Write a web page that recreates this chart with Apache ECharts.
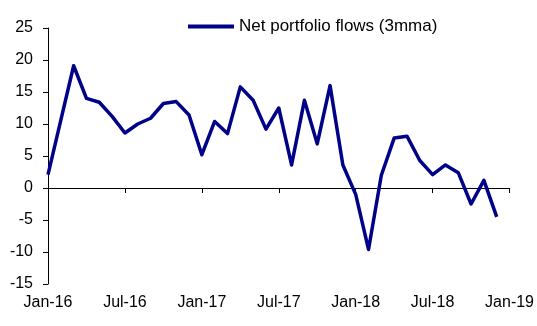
<!DOCTYPE html>
<html>
<head>
<meta charset="utf-8">
<script src="https://cdn.jsdelivr.net/npm/echarts@6/dist/echarts.min.js"></script>
<style>
html,body{margin:0;padding:0;background:#fff;}
#chart{width:537px;height:326px;}
</style>
</head>
<body>
<div id="chart"></div>
<script>
var categories = ['Jan-16','Feb-16','Mar-16','Apr-16','May-16','Jun-16','Jul-16','Aug-16','Sep-16','Oct-16','Nov-16','Dec-16',
  'Jan-17','Feb-17','Mar-17','Apr-17','May-17','Jun-17','Jul-17','Aug-17','Sep-17','Oct-17','Nov-17','Dec-17',
  'Jan-18','Feb-18','Mar-18','Apr-18','May-18','Jun-18','Jul-18','Aug-18','Sep-18','Oct-18','Nov-18','Dec-18',
  'Jan-19'];
var netPortfolioFlows = [2.1, 10.6, 19.1, 14.0, 13.4, 11.2, 8.6, 10.0, 10.9, 13.2, 13.5, 11.4,
  5.2, 10.4, 8.5, 15.8, 13.7, 9.2, 12.5, 3.6, 13.7, 6.9, 16.0, 3.6,
  -1.0, -9.6, 2.0, 7.8, 8.1, 4.3, 2.1, 3.6, 2.4, -2.5, 1.2, -4.5,
  null];
var seriesName = 'Net portfolio flows (3mma)';
var yMin = -15, yMax = 25, yStep = 5;

var chart = echarts.init(document.getElementById('chart'));
var fontFamily = '"Liberation Sans", Arial, sans-serif';
chart.setOption({
  animation: false,
  backgroundColor: '#ffffff',
  legend: {
    left: 183,
    top: 13,
    icon: 'rect',
    itemWidth: 46,
    itemHeight: 4,
    itemGap: 10,
    textStyle: {fontFamily: fontFamily, fontSize: 17, color: '#000'},
    data: [seriesName]
  },
  grid: {left: 48, top: 28, width: 464, height: 256, containLabel: false},
  xAxis: [
    {
      type: 'category',
      data: categories,
      boundaryGap: false,
      position: 'bottom',
      axisLine: {show: true, onZero: true, lineStyle: {color: '#000', width: 1}},
      axisTick: {show: true, interval: 5, length: 5, inside: false, lineStyle: {color: '#000'}},
      axisLabel: {show: false},
      splitLine: {show: false}
    },
    {
      type: 'category',
      data: categories,
      boundaryGap: false,
      position: 'bottom',
      axisLine: {show: false, onZero: false},
      axisTick: {show: false},
      axisLabel: {show: true, interval: 5, margin: 11, color: '#000', fontFamily: fontFamily, fontSize: 16},
      splitLine: {show: false}
    }
  ],
  yAxis: {
    type: 'value',
    min: yMin, max: yMax, interval: yStep,
    axisLine: {show: true, onZero: false, lineStyle: {color: '#000', width: 1}},
    axisTick: {show: true, length: 5, lineStyle: {color: '#000'}},
    axisLabel: {margin: 15, color: '#000', fontFamily: fontFamily, fontSize: 16},
    splitLine: {show: false}
  },
  series: [{
    name: seriesName,
    type: 'line',
    xAxisIndex: 0,
    data: netPortfolioFlows,
    showSymbol: false,
    symbol: 'none',
    smooth: false,
    color: '#000088',
    lineStyle: {color: '#000088', width: 3.5, join: 'round'}
  }]
});
</script>
</body>
</html>
